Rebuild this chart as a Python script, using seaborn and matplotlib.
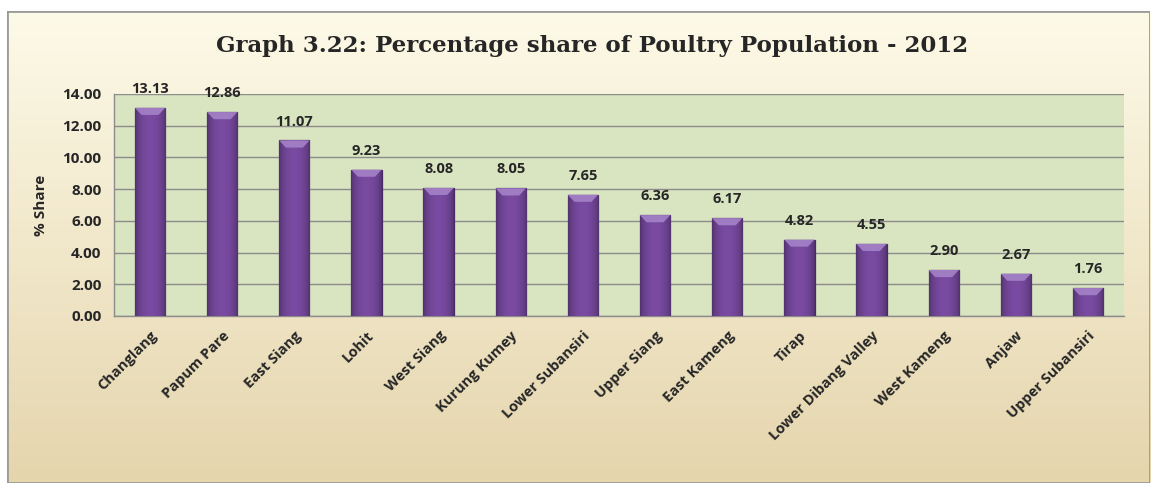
import numpy as np
import pandas as pd
import matplotlib
matplotlib.use("Agg")
import matplotlib.pyplot as plt
import seaborn as sns
from matplotlib.patches import Rectangle, Polygon

districts = ["Changlang", "Papum Pare", "East Siang", "Lohit", "West Siang",
             "Kurung Kumey", "Lower Subansiri", "Upper Siang", "East Kameng",
             "Tirap", "Lower Dibang Valley", "West Kameng", "Anjaw", "Upper Subansiri"]
share = [13.13, 12.86, 11.07, 9.23, 8.08, 8.05, 7.65, 6.36, 6.17, 4.82, 4.55, 2.90, 2.67, 1.76]
yticks = [0, 2, 4, 6, 8, 10, 12, 14]
title = "Graph 3.22: Percentage share of Poultry Population - 2012"
ylabel = "% Share"

df = pd.DataFrame({"District": districts, "Share": share})

sns.set_theme(style="white")
plt.rcParams['font.family'] = ['Open Sans', 'DejaVu Sans']

fig = plt.figure(figsize=(11.57, 4.83), dpi=100)
fig.patch.set_facecolor("white")

# background frame with gradient
bg = fig.add_axes([0.006, 0.0, 0.988, 0.977])
bg.set_xlim(0, 1); bg.set_ylim(0, 1)
grad = np.linspace(0, 1, 256).reshape(-1, 1)
c_top = np.array([0xfd, 0xfa, 0xe8]) / 255
c_bot = np.array([0xe5, 0xd5, 0xad]) / 255
img = c_bot[None, None, :] * (1 - grad[:, :, None]) + c_top[None, None, :] * grad[:, :, None]
bg.imshow(img, extent=[0, 1, 0, 1], origin="lower", aspect="auto", zorder=0)
bg.add_patch(Rectangle((0, 0), 1, 1, fill=False, edgecolor="#9a9a9a", linewidth=2, zorder=2))
bg.axis("off")

ax = fig.add_axes([0.0985, 0.3458, 0.873, 0.4596])
ax.set_facecolor("#d9e4c0")
sns.barplot(data=df, x="District", y="Share", color="#7a4ea0", width=0.42,
            edgecolor="#4a2a66", linewidth=0.9, ax=ax, zorder=3, saturation=1)

# cylinder-like shading on bars
shade = np.linspace(0, 1, 64)
prof = 0.72 + 0.38 * np.sin(np.pi * shade) ** 0.6
base = np.array([0x6e, 0x44, 0x93]) / 255
bar_img = np.clip(base[None, :] * prof[:, None], 0, 1)[None, :, :]
for p in ax.patches[:]:
    x0, w, h = p.get_x(), p.get_width(), p.get_height()
    im = ax.imshow(bar_img, extent=[x0, x0 + w, 0, h], aspect="auto", zorder=3.5,
                   interpolation="bilinear")
    im.set_clip_path(p)
    # top bevel highlight
    bev = 0.45
    tri = Polygon([(x0, h), (x0 + w, h), (x0 + w * 0.78, h - bev), (x0 + w * 0.22, h - bev)],
                  closed=True, facecolor="#a582c8", edgecolor="none", zorder=3.6, alpha=0.9)
    ax.add_patch(tri)
    ax.text(x0 + w / 2, h + 0.75, f"{h:.2f}", ha="center", va="bottom",
            fontsize=10.5, fontweight="bold", color="#262626", zorder=5)

ax.set_xlim(-0.5, len(districts) - 0.5)
ax.set_ylim(0, 14)
ax.set_yticks(yticks)
ax.set_yticklabels([f"{v:.2f}" for v in yticks], fontsize=11, fontweight="bold", color="#262626")
ax.yaxis.grid(True, color="#8c8c8c", linewidth=1)
ax.set_axisbelow(True)
ax.set_xticks(range(len(districts)))
ax.set_xticklabels(districts, rotation=45, ha="right", rotation_mode="anchor",
                   fontsize=10.5, fontweight="bold", color="#262626")
ax.tick_params(axis="x", which="major", length=0, pad=9)
ax.set_xticks(np.arange(-0.5, len(districts), 1), minor=True)
ax.tick_params(axis="x", which="minor", length=5, color="#8c8c8c", width=1, direction="out")
ax.tick_params(axis="y", length=5, color="#8c8c8c", width=1, direction="out", pad=4)
for s in ["top", "right"]:
    ax.spines[s].set_visible(False)
for s in ["left", "bottom"]:
    ax.spines[s].set_color("#8c8c8c")
    ax.spines[s].set_linewidth(1)
ax.set_xlabel("")
ax.set_ylabel(ylabel, fontsize=11, fontweight="bold", color="#262626", labelpad=10)

fig.text(0.512, 0.905, title, ha="center", va="center", fontsize=16.5,
         fontweight="bold", family=["DejaVu Serif"], color="#262626")

fig.savefig("out.png", dpi=100)
